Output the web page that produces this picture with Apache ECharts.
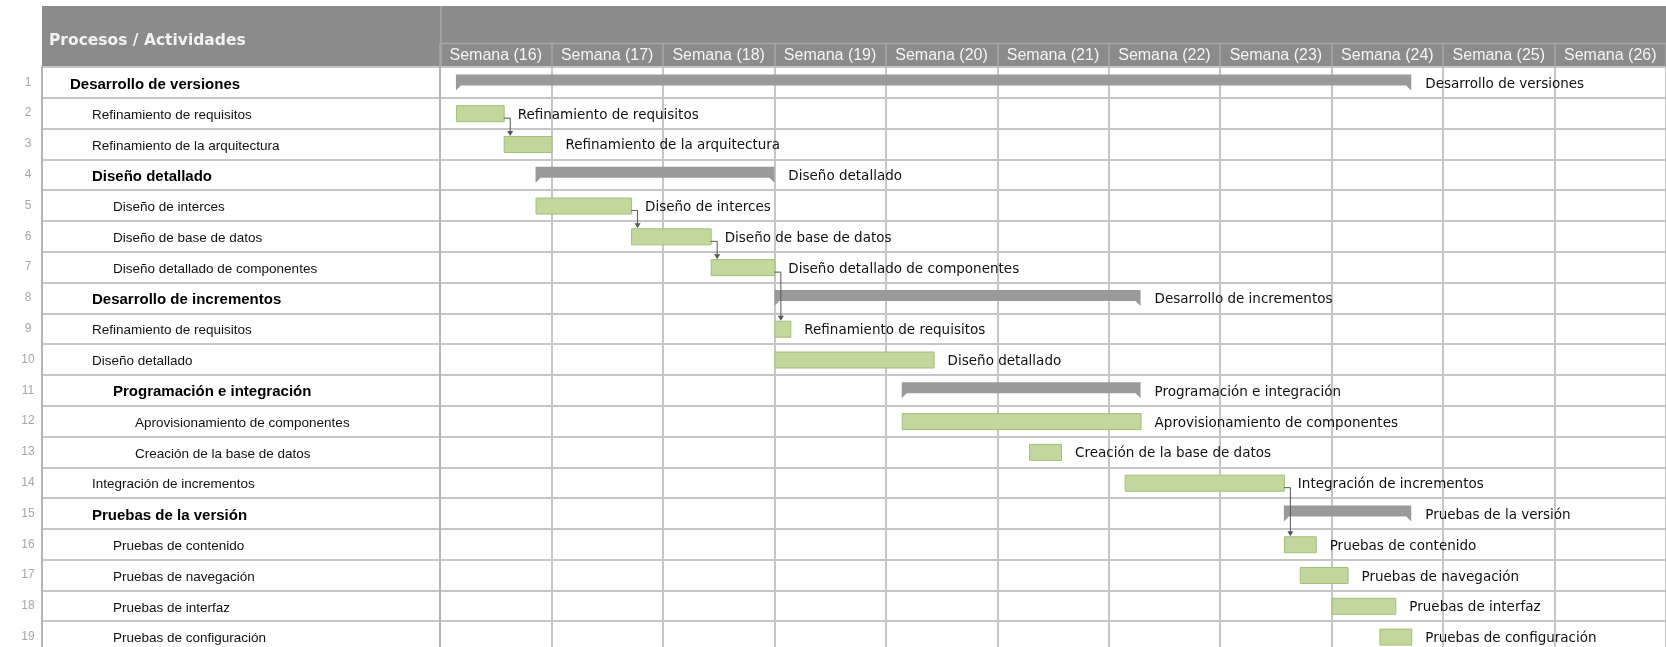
<!DOCTYPE html>
<html>
<head>
<meta charset="utf-8">
<title>Procesos / Actividades</title>
<script src="https://cdn.jsdelivr.net/npm/echarts@6.0.0/dist/echarts.min.js"></script>
<style>
  html, body { margin: 0; padding: 0; background: #fff; }
  #ganttChart { width: 1666px; height: 647px; }
</style>
</head>
<body>
<div id="ganttChart"></div>
<script>
// actividades, de arriba a abajo
var tasks = [
  'Desarrollo de versiones',
  'Refinamiento de requisitos',
  'Refinamiento de la arquitectura',
  'Diseño detallado',
  'Diseño de interces',
  'Diseño de base de datos',
  'Diseño detallado de componentes',
  'Desarrollo de incrementos',
  'Refinamiento de requisitos',
  'Diseño detallado',
  'Programación e integración',
  'Aprovisionamiento de componentes',
  'Creación de la base de datos',
  'Integración de incrementos',
  'Pruebas de la versión',
  'Pruebas de contenido',
  'Pruebas de navegación',
  'Pruebas de interfaz',
  'Pruebas de configuración'
];
// nivel de sangria y si es tarea resumen
var levels  = [0, 1, 1, 1, 2, 2, 2, 1, 1, 1, 2, 3, 3, 1, 1, 2, 2, 2, 2];
var summary = [1, 0, 0, 1, 0, 0, 0, 1, 0, 0, 1, 0, 0, 0, 1, 0, 0, 0, 0];
// dias contados desde el inicio de la Semana (16)
var startDay = [1, 1, 4, 6, 6, 12, 17, 21, 21, 21, 29, 29, 37, 43, 53, 53, 54, 56, 59];
var endDay   = [61, 4, 7, 21, 12, 17, 21, 44, 22, 31, 44, 44, 39, 53, 61, 55, 57, 60, 61];
var weeks = ['Semana (16)', 'Semana (17)', 'Semana (18)', 'Semana (19)', 'Semana (20)', 'Semana (21)',
             'Semana (22)', 'Semana (23)', 'Semana (24)', 'Semana (25)', 'Semana (26)'];
// dependencias [desde, hasta]
var links = [[1, 2], [4, 5], [5, 6], [6, 8], [13, 15]];

init();

function init() {
  var chart = echarts.init(document.getElementById('ganttChart'));

  var pads = [28, 50, 71, 93];
  var rich = {};
  for (var lv = 0; lv < pads.length; lv++) {
    rich['n' + lv] = { fontFamily: 'Liberation Sans', fontSize: 13.5, color: '#111', padding: [4, 0, 0, pads[lv]] };
    rich['b' + lv] = { fontFamily: 'Liberation Sans', fontSize: 15, fontWeight: 'bold', color: '#000', padding: [4, 0, 0, pads[lv]] };
  }

  var taskData = tasks.map(function (t, i) {
    return [i, startDay[i], endDay[i], summary[i]];
  });

  function renderTask(params, api) {
    var i = api.value(0);
    var p0 = api.coord([api.value(1), i]);
    var p1 = api.coord([api.value(2), i]);
    var x0 = p0[0], x1 = p1[0], cy = p0[1];
    var bar;
    if (api.value(3)) {
      bar = {
        type: 'polygon',
        shape: { points: [[x0, cy - 8], [x1, cy - 8], [x1, cy + 8], [x1 - 5, cy + 3], [x0 + 5, cy + 3], [x0, cy + 8]] },
        style: { fill: '#9a9a9a' }
      };
    } else {
      bar = {
        type: 'rect',
        shape: { x: x0 + 0.5, y: cy - 7.5, width: x1 - x0, height: 16 },
        style: { fill: '#c3d69b', stroke: '#a3bf78', lineWidth: 1 }
      };
    }
    return {
      type: 'group',
      children: [bar, {
        type: 'text',
        style: {
          text: tasks[i], x: x1 + 14, y: cy + 2, verticalAlign: 'middle', align: 'left',
          font: '13.5px "DejaVu Sans"', fill: '#111'
        }
      }]
    };
  }

  function renderLink(params, api) {
    var a = api.value(0), b = api.value(1);
    var from = api.coord([endDay[a], a]);
    var to = api.coord([startDay[b], b]);
    var xa = from[0] + 6.5, y0 = from[1] + 5, y1 = to[1] - 8;
    return {
      type: 'group',
      children: [{
        type: 'polyline',
        shape: { points: [[from[0], y0], [xa, y0], [xa, y1 - 4]] },
        style: { stroke: '#555', lineWidth: 1, fill: null }
      }, {
        type: 'polygon',
        shape: { points: [[xa - 3, y1 - 5], [xa + 3, y1 - 5], [xa, y1]] },
        style: { fill: '#555' }
      }]
    };
  }

  chart.setOption({
    animation: false,
    title: {
      text: 'Procesos / Actividades',
      left: 49,
      top: 33,
      padding: 0,
      textStyle: { color: '#f2f2f2', fontFamily: 'DejaVu Sans', fontWeight: 'bold', fontSize: 15.5 }
    },
    graphic: [
      { type: 'rect', z: -10, shape: { x: 42, y: 6, width: 1624, height: 61 }, style: { fill: '#8b8b8b' } },
      { type: 'line', z: -9, shape: { x1: 441, y1: 43.5, x2: 1666, y2: 43.5 }, style: { stroke: '#a8a8a8', lineWidth: 1.5 } },
      { type: 'line', z: -9, shape: { x1: 441, y1: 6, x2: 441, y2: 67 }, style: { stroke: '#a8a8a8', lineWidth: 1.5 } }
    ],
    grid: [
      { left: 42, top: 67, width: 398, height: 585, outerBoundsMode: 'none' },
      { left: 440, top: 67, right: 0, height: 585, outerBoundsMode: 'none' }
    ],
    xAxis: [
      { gridIndex: 0, type: 'value', show: false, min: 0, max: 1 },
      {
        gridIndex: 1, type: 'value', min: 0, max: 77, interval: 7,
        axisLine: { show: false }, axisTick: { show: false }, axisLabel: { show: false },
        splitLine: { show: true, lineStyle: { color: '#c6c6c6', width: 2 } }
      },
      {
        gridIndex: 1, type: 'category', position: 'top', data: weeks, boundaryGap: true,
        axisLine: { show: false },
        axisTick: { show: true, length: 23, interval: 0, lineStyle: { color: '#a8a8a8', width: 1.5 } },
        axisLabel: { interval: 0, margin: 3, color: '#f4f4f4', fontFamily: 'Liberation Sans', fontSize: 16 },
        splitLine: { show: false }
      }
    ],
    yAxis: [
      {
        gridIndex: 0, type: 'category', position: 'left', data: tasks, inverse: true,
        axisLine: { show: true, lineStyle: { color: '#b4b4b4', width: 2 } },
        axisTick: { show: false },
        splitLine: { show: true, interval: 0, lineStyle: { color: '#c6c6c6', width: 2 } },
        axisLabel: {
          inside: true, margin: 0, interval: 0, align: 'left',
          formatter: function (v, i) {
            return '{' + (summary[i] ? 'b' : 'n') + levels[i] + '|' + v + '}';
          },
          rich: rich
        }
      },
      {
        gridIndex: 0, type: 'category', position: 'left', offset: 0, data: tasks, inverse: true,
        axisLine: { show: false }, axisTick: { show: false }, splitLine: { show: false },
        axisLabel: {
          interval: 0, margin: 14, align: 'center', color: '#a6a6a6',
          fontFamily: 'Liberation Sans', fontSize: 12, padding: [4, 0, 0, 0],
          formatter: function (v, i) { return String(i + 1); }
        }
      },
      {
        gridIndex: 1, type: 'category', position: 'left', data: tasks, inverse: true,
        axisLine: { show: true, lineStyle: { color: '#b4b4b4', width: 2 } },
        axisTick: { show: false }, axisLabel: { show: false },
        splitLine: { show: true, interval: 0, lineStyle: { color: '#c6c6c6', width: 2 } }
      }
    ],
    series: [
      {
        name: 'Actividades',
        type: 'custom',
        xAxisIndex: 1,
        yAxisIndex: 2,
        renderItem: renderTask,
        encode: { x: [1, 2], y: 0 },
        data: taskData,
        z: 3
      },
      {
        name: 'Dependencias',
        type: 'custom',
        xAxisIndex: 1,
        yAxisIndex: 2,
        renderItem: renderLink,
        data: links,
        z: 4
      }
    ]
  });
}
</script>
</body>
</html>
